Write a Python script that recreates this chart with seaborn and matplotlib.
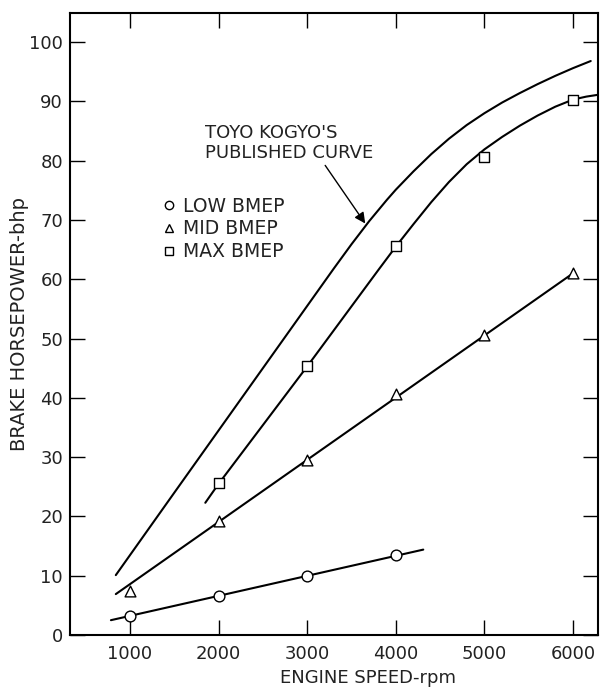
import matplotlib
matplotlib.use("Agg")
import matplotlib.pyplot as plt
from matplotlib.lines import Line2D
import seaborn as sns

# ---- data ----
ticks_rpm = [1000, 2000, 3000, 4000, 5000, 6000]
ticks_bhp = [0, 10, 20, 30, 40, 50, 60, 70, 80, 90, 100]

# Toyo Kogyo's published curve
pub_rpm = [840, 1500, 2500, 3300, 3500, 3700, 3900, 4000, 4200, 4400, 4600, 4800,
           5000, 5200, 5400, 5600, 5800, 6000, 6200]
pub_bhp = [10.1, 24.0, 45.0, 61.8, 65.9, 69.8, 73.4, 75.1, 78.2, 81.1, 83.7, 86.0,
           88.0, 89.8, 91.4, 92.9, 94.3, 95.6, 96.8]

# Max BMEP fitted curve and points
max_rpm = [1850, 2000, 3000, 3800, 4000, 4200, 4400, 4600, 4800, 5000, 5200, 5400,
           5600, 5800, 6000, 6150, 6280]
max_bhp = [22.3, 25.5, 45.3, 61.5, 65.5, 69.3, 73.0, 76.4, 79.4, 81.9, 84.0, 85.9,
           87.6, 89.1, 90.3, 90.8, 91.1]
max_pt_rpm = [2000, 3000, 4000, 5000, 6000]
max_pt_bhp = [25.6, 45.3, 65.6, 80.6, 90.3]

# Mid BMEP line and points
mid_rpm = [840, 6000]
mid_bhp = [6.9, 61.0]
mid_pt_rpm = [1000, 2000, 3000, 4000, 5000, 6000]
mid_pt_bhp = [7.4, 19.2, 29.5, 40.6, 50.6, 61.0]

# Low BMEP line and points
low_rpm = [785, 4310]
low_bhp = [2.5, 14.4]
low_pt_rpm = [1000, 2000, 3000, 4000]
low_pt_bhp = [3.2, 6.5, 9.9, 13.5]

legend_labels = ["LOW BMEP", "MID BMEP", "MAX BMEP"]
annot_text = "TOYO KOGYO'S\nPUBLISHED CURVE"

# ---- plotting ----
sns.set_style("ticks")
plt.rcParams['font.family'] = ['DejaVu Sans']

fig = plt.figure(figsize=(6.0, 6.87), dpi=100)
ax = fig.add_axes([70/600, 52/687, 528/600, 622/687])

lw = 1.5
for xs, ys in [(pub_rpm, pub_bhp), (max_rpm, max_bhp), (mid_rpm, mid_bhp), (low_rpm, low_bhp)]:
    sns.lineplot(x=xs, y=ys, ax=ax, color="black", linewidth=lw, sort=False,
                 estimator=None, legend=False)

mk = dict(facecolor="white", edgecolor="black", linewidth=1.0, zorder=4, legend=False)
sns.scatterplot(x=low_pt_rpm, y=low_pt_bhp, marker="o", s=60, ax=ax, **mk)
sns.scatterplot(x=mid_pt_rpm, y=mid_pt_bhp, marker="^", s=60, ax=ax, **mk)
sns.scatterplot(x=max_pt_rpm, y=max_pt_bhp, marker="s", s=50, ax=ax, **mk)

ax.set_xlim(323, 6282)
ax.set_ylim(0, 104.9)

ax.set_xticks(ticks_rpm)
ax.set_xticklabels([str(t) for t in ticks_rpm])
ax.set_yticks(ticks_bhp)
ax.set_yticklabels([str(t) for t in ticks_bhp])

ax.tick_params(axis="both", direction="in", length=11, width=1.0, labelsize=13,
               top=True, right=True, color="black", labelcolor="#222222")
ax.tick_params(axis="x", pad=7)
ax.tick_params(axis="y", pad=5)
for sp in ax.spines.values():
    sp.set_linewidth(1.5)
    sp.set_color("black")
    sp.set_visible(True)

ax.set_xlabel("ENGINE SPEED-rpm", fontsize=13, color="#222222")
ax.xaxis.label.set_verticalalignment("center")
ax.xaxis.set_label_coords(0.564, -0.069)
ax.set_ylabel("BRAKE HORSEPOWER-bhp", fontsize=14, color="#222222")
ax.yaxis.label.set_verticalalignment("center")
ax.yaxis.set_label_coords(-0.095, 0.5)

# annotation
ax.text(1847, 83.0, annot_text, fontsize=13, color="#222222", ha="left", va="center",
        linespacing=1.15, multialignment="left")
ax.annotate("", xy=(3655, 69.4), xytext=(3203, 79.2),
            arrowprops=dict(arrowstyle="-|>", color="black", lw=1.0, mutation_scale=16,
                            shrinkA=0, shrinkB=0))

handles = [
    Line2D([], [], linestyle="none", marker="o", markersize=6, markerfacecolor="white",
           markeredgecolor="black", markeredgewidth=1.0),
    Line2D([], [], linestyle="none", marker="^", markersize=6, markerfacecolor="white",
           markeredgecolor="black", markeredgewidth=1.0),
    Line2D([], [], linestyle="none", marker="s", markersize=5.5, markerfacecolor="white",
           markeredgecolor="black", markeredgewidth=1.0),
]
leg = ax.legend(handles, legend_labels, frameon=False, loc="center left",
                bbox_to_anchor=((161 - 70) / 528, (635 - 229) / 622),
                handlelength=0.8, handletextpad=0.35, labelspacing=0.2,
                borderpad=0, borderaxespad=0, fontsize=13.5)
for t in leg.get_texts():
    t.set_color("#222222")

fig.savefig("out.png", dpi=100, facecolor="white")
